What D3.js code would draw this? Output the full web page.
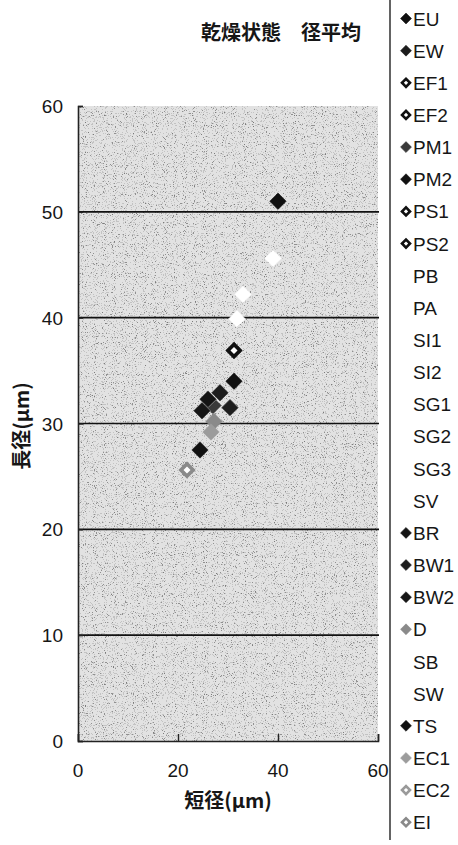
<!DOCTYPE html>
<html>
<head>
<meta charset="utf-8">
<script src="https://cdn.jsdelivr.net/npm/d3@7"></script>
<style>
  html, body { margin: 0; padding: 0; background: #fff; }
  svg { display: block; }
  .tick-label { font-family: "Liberation Sans", Arial, sans-serif; font-size: 19px; fill: #161616; }
  .legend-label { font-family: "Liberation Sans", Arial, sans-serif; font-size: 19px; fill: #161616; }
  .jp { font-family: "Noto Sans CJK JP", sans-serif; fill: #161616; font-weight: 700; }
</style>
</head>
<body>
<script>
// series in legend order, one averaged point each (short diameter, long diameter, µm)
const seriesNames = ["EU", "EW", "EF1", "EF2", "PM1", "PM2", "PS1", "PS2", "PB", "PA", "SI1", "SI2", "SG1",
                     "SG2", "SG3", "SV", "BR", "BW1", "BW2", "D", "SB", "SW", "TS", "EC1", "EC2", "EI"];
const shortDiam = [40.0, 28.4, 31.2, 31.2, 27.0, 31.2, 26.0, 30.4, 39.0, 33.0, 31.8, 26.0, 30.4,
                   24.8, 26.0, 30.4, 26.0, 30.4, 24.8, 27.2, 24.4, 24.4, 24.4, 26.6, 21.8, 21.8];
const longDiam  = [51.0, 32.9, 36.9, 36.9, 31.7, 34.0, 32.3, 31.5, 45.6, 42.2, 39.9, 32.3, 31.5,
                   31.2, 32.3, 31.5, 32.3, 31.5, 31.2, 30.2, 27.5, 27.5, 27.5, 29.2, 25.6, 25.6];
const xTicks = [0, 20, 40, 60];
const yTicks = [0, 10, 20, 30, 40, 50, 60];
const gridValues = [10, 20, 30, 40, 50];

const titleText = "乾燥状態　径平均";
const xLabel = "短径(μm)";
const yLabel = "長径(μm)";

// marker look per series (fill, stroke)
const solid = c => ({fill: c, stroke: c, open: false});
const open = c => ({fill: "#fff", stroke: c, open: true});
const blank = {fill: "#fff", stroke: "#fff", open: false};
const markerStyle = {
  EU: solid("#111"), EW: solid("#1c1c1c"), EF1: open("#111"), EF2: open("#111"),
  PM1: solid("#3a3a3a"), PM2: solid("#111"), PS1: open("#111"), PS2: open("#111"),
  PB: blank, PA: blank, SI1: blank, SI2: blank, SG1: blank, SG2: blank, SG3: blank, SV: blank,
  BR: solid("#141414"), BW1: solid("#1e1e1e"), BW2: solid("#161616"), D: solid("#8a8a8a"),
  SB: blank, SW: blank, TS: solid("#111"), EC1: solid("#9c9c9c"), EC2: open("#9a9a9a"), EI: open("#8a8a8a")
};

const W = 458, H = 845;
const svg = d3.select("body").append("svg").attr("width", W).attr("height", H);

const x = d3.scaleLinear().domain([0, 60]).range([78, 378]);
const y = d3.scaleLinear().domain([0, 60]).range([741, 106]);

// stipple texture for the plot area
const defs = svg.append("defs");
const f = defs.append("filter").attr("id", "stipple")
  .attr("x", 0).attr("y", 0).attr("width", "100%").attr("height", "100%");
f.append("feTurbulence").attr("type", "fractalNoise").attr("baseFrequency", 0.9)
  .attr("numOctaves", 2).attr("seed", 7).attr("result", "n");
f.append("feColorMatrix").attr("in", "n").attr("type", "matrix")
  .attr("values", "0 0 0 0 0  0 0 0 0 0  0 0 0 0 0  1 0 0 0 0").attr("result", "a");
f.append("feComponentTransfer").append("feFuncA").attr("type", "discrete")
  .attr("tableValues", "0 0 0 0 0 0 0.3 0.8 1 1");

const plotBox = {x0: x(0), x1: x(60), y0: y(60), y1: y(0)};
svg.append("rect")
  .attr("x", plotBox.x0).attr("y", plotBox.y0)
  .attr("width", plotBox.x1 - plotBox.x0).attr("height", plotBox.y1 - plotBox.y0)
  .attr("fill", "#e2e2e2");
svg.append("rect")
  .attr("x", plotBox.x0).attr("y", plotBox.y0)
  .attr("width", plotBox.x1 - plotBox.x0).attr("height", plotBox.y1 - plotBox.y0)
  .attr("fill", "#444").attr("filter", "url(#stipple)").attr("opacity", 0.45);

// gridlines
svg.append("g").selectAll("line").data(gridValues).join("line")
  .attr("x1", plotBox.x0).attr("x2", plotBox.x1 + 1)
  .attr("y1", d => y(d)).attr("y2", d => y(d))
  .attr("stroke", "#111").attr("stroke-width", 1.6);

// axes (ticks point inward)
const xAxis = d3.axisBottom(x).tickValues(xTicks).tickSize(-7).tickFormat("");
const yAxis = d3.axisLeft(y).tickValues(yTicks).tickSize(-5).tickFormat("");
svg.append("g").attr("transform", `translate(0,${y(0)})`).call(xAxis)
  .call(g => g.select(".domain").attr("stroke", "#222").attr("stroke-width", 1.6))
  .call(g => g.selectAll(".tick line").attr("stroke", "#222").attr("stroke-width", 1.4));
svg.append("g").attr("transform", `translate(${x(0)},0)`).call(yAxis)
  .call(g => g.select(".domain").attr("stroke", "#222").attr("stroke-width", 1.6))
  .call(g => g.selectAll(".tick line").attr("stroke", "#222").attr("stroke-width", 1.4));

// tick labels
svg.append("g").selectAll("text").data(xTicks).join("text")
  .attr("class", "tick-label")
  .attr("x", d => x(d)).attr("y", 777)
  .attr("text-anchor", "middle")
  .text(d => d);
svg.append("g").selectAll("text").data(yTicks).join("text")
  .attr("class", "tick-label")
  .attr("x", 63).attr("y", d => y(d) + 7)
  .attr("text-anchor", "end")
  .text(d => d);

// axis titles and chart title
svg.append("text").attr("class", "jp")
  .attr("x", 228).attr("y", 808).attr("text-anchor", "middle")
  .style("font-size", "20px").text(xLabel);
svg.append("text").attr("class", "jp")
  .attr("transform", "translate(29,426) rotate(-90)").attr("text-anchor", "middle")
  .style("font-size", "20px").text(yLabel);
svg.append("text").attr("class", "jp")
  .attr("x", 281).attr("y", 40).attr("text-anchor", "middle")
  .style("font-size", "20px").text(titleText);

// points
const points = seriesNames.map((name, i) => ({name, sx: shortDiam[i], ly: longDiam[i]}));
const diamond = size => d3.symbol(d3.symbolSquare, size)();

svg.append("g").selectAll("path").data(points).join("path")
  .attr("d", d => diamond(markerStyle[d.name].open ? 72 : 135))
  .attr("transform", d => `translate(${x(d.sx)},${y(d.ly)}) rotate(45)`)
  .attr("fill", d => markerStyle[d.name].fill)
  .attr("stroke", d => markerStyle[d.name].stroke)
  .attr("stroke-width", d => markerStyle[d.name].open ? 3.5 : 0.5);

// legend
svg.append("line")
  .attr("x1", 390).attr("x2", 390).attr("y1", 0).attr("y2", 840)
  .attr("stroke", "#222").attr("stroke-width", 1.4);

const legend = svg.append("g").selectAll("g").data(seriesNames).join("g")
  .attr("transform", (d, i) => `translate(0,${18.5 + i * 32.15})`);
legend.append("path")
  .attr("d", d => diamond(markerStyle[d].open ? 32 : 60))
  .attr("transform", "translate(406,0) rotate(45)")
  .attr("fill", d => markerStyle[d].fill)
  .attr("stroke", d => markerStyle[d].stroke)
  .attr("stroke-width", d => markerStyle[d].open ? 2.6 : 0.5);
legend.append("text")
  .attr("class", "legend-label")
  .attr("x", 413).attr("y", 7)
  .text(d => d);
</script>
</body>
</html>
